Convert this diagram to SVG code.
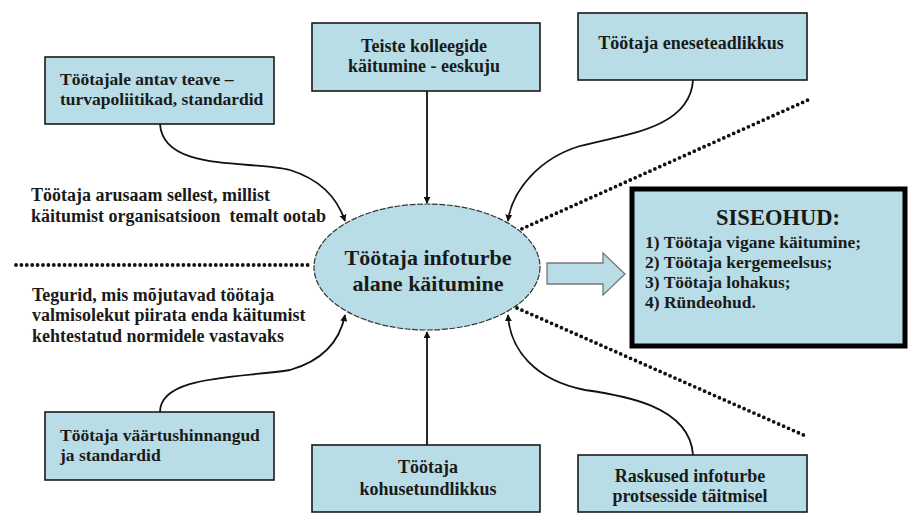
<svg xmlns="http://www.w3.org/2000/svg" width="910" height="517" viewBox="0 0 910 517">
<defs>
<style>
.box{fill:#b8dde6;stroke:#1a1a1a;stroke-width:1.6}
.t{font-family:"Liberation Serif","Times New Roman",serif;font-weight:bold;font-size:18px;fill:#1a1a1a}
.l{font-size:17.5px}
.c{text-anchor:middle}
.con{fill:none;stroke:#111;stroke-width:1.8}
.dot{fill:none;stroke:#111;stroke-width:3.8;stroke-linecap:round;stroke-dasharray:0 5.4}
</style>
<marker id="ah" viewBox="0 0 10 10" refX="9" refY="5" markerWidth="7" markerHeight="7" orient="auto" markerUnits="userSpaceOnUse">
<path d="M0,0 L10,5 L0,10 z" fill="#111"/>
</marker>
</defs>
<rect width="910" height="517" fill="#fff"/>

<g id="dotted-lines">
<path class="dot" d="M16,265 L312,265"/>
<path class="dot" d="M517,231 L808,100"/>
<path class="dot" d="M517,308 L808,437"/>
</g>

<g id="connectors">
<path class="con" d="M160,124 C163,172 250,160 290,170 C322,180 338,200 345,221" marker-end="url(#ah)"/>
<path class="con" d="M427,91 L427,203" marker-end="url(#ah)"/>
<path class="con" d="M693,80 C690,130 620,135 580,146 C540,158 512,190 508,221" marker-end="url(#ah)"/>
<path class="con" d="M160,412 C160,375 240,378 290,370 C325,360 340,340 345,315" marker-end="url(#ah)"/>
<path class="con" d="M427,445 L427,332" marker-end="url(#ah)"/>
<path class="con" d="M693,455 C690,405 620,395 585,390 C535,380 510,350 508,315" marker-end="url(#ah)"/>
</g>

<g id="n-teave">
<rect class="box" x="45" y="57" width="229" height="67"/>
<text class="t l" x="60" y="85">Töötajale antav teave –</text>
<text class="t l" x="60" y="105">turvapoliitikad, standardid</text>
</g>

<g id="n-kolleegid">
<rect class="box" x="312" y="23" width="228" height="68"/>
<text class="t c" x="424" y="52">Teiste kolleegide</text>
<text class="t c" x="424" y="72">käitumine - eeskuju</text>
</g>

<g id="n-eneseteadlikkus">
<rect class="box" x="578" y="13" width="229" height="67"/>
<text class="t c" x="691" y="49">Töötaja eneseteadlikkus</text>
</g>

<g id="n-arusaam">
<text class="t" x="31" y="201">Töötaja arusaam sellest, millist</text>
<text class="t" x="31" y="222" xml:space="preserve">käitumist organisatsioon  temalt ootab</text>
</g>

<g id="n-tegurid">
<text class="t" x="32" y="301">Tegurid, mis mõjutavad töötaja</text>
<text class="t" x="32" y="321">valmisolekut piirata enda käitumist</text>
<text class="t" x="32" y="342">kehtestatud normidele vastavaks</text>
</g>

<g id="n-kaitumine">
<ellipse cx="427" cy="267" rx="113" ry="63" fill="#b8dde6" stroke="#333" stroke-width="1.2" stroke-dasharray="6 1.5"/>
<text class="t c" x="428" y="265" style="font-size:22px">Töötaja infoturbe</text>
<text class="t c" x="428" y="291" style="font-size:22px">alane käitumine</text>
</g>

<g id="arrow-siseohud">
<path d="M547,263 L603,263 L603,253 L625,274 L603,295 L603,284 L547,284 Z" fill="#b8dde6" stroke="#777" stroke-width="1.3"/>
</g>

<g id="n-siseohud">
<rect x="632" y="189" width="273" height="157" fill="#b8dde6" stroke="#000" stroke-width="5"/>
<text class="t c" x="778" y="225" style="font-size:22.5px">SISEOHUD:</text>
<text class="t" x="645" y="248" style="font-size:17.5px">1) Töötaja vigane käitumine;</text>
<text class="t" x="645" y="268" style="font-size:17.5px">2) Töötaja kergemeelsus;</text>
<text class="t" x="645" y="288" style="font-size:17.5px">3) Töötaja lohakus;</text>
<text class="t" x="645" y="308" style="font-size:17.5px">4) Ründeohud.</text>
</g>

<g id="n-vaartushinnangud">
<rect class="box" x="45" y="412" width="229" height="68"/>
<text class="t l" x="60" y="441">Töötaja väärtushinnangud</text>
<text class="t l" x="60" y="461">ja standardid</text>
</g>

<g id="n-kohusetundlikkus">
<rect class="box" x="312" y="445" width="228" height="67"/>
<text class="t c" x="428" y="473">Töötaja</text>
<text class="t c" x="428" y="495">kohusetundlikkus</text>
</g>

<g id="n-raskused">
<rect class="box" x="578" y="455" width="229" height="57"/>
<text class="t c" x="690" y="482">Raskused infoturbe</text>
<text class="t c" x="690" y="502">protsesside täitmisel</text>
</g>
</svg>
